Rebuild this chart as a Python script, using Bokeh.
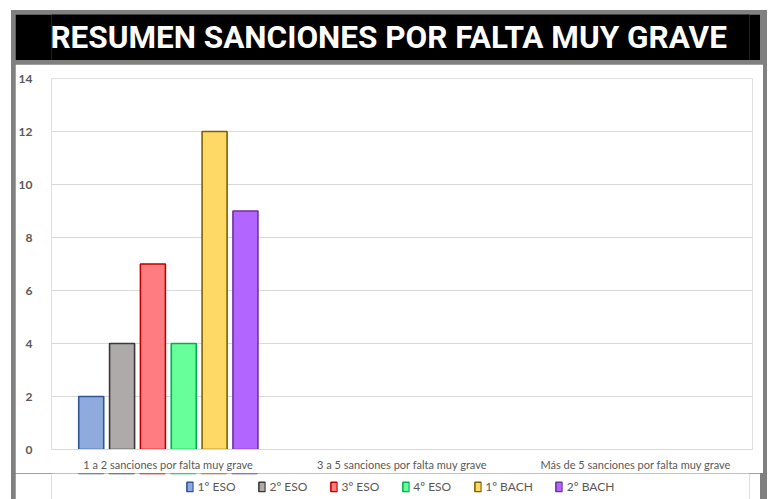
from bokeh.plotting import figure
from bokeh.layouts import column
from bokeh.models import ColumnDataSource, FactorRange, Label, Legend, LegendItem, FixedTicker
from bokeh.transform import dodge
from bokeh.embed import file_html
from bokeh.resources import INLINE

title_text = "RESUMEN SANCIONES POR FALTA MUY GRAVE"
categories = ["1 a 2 sanciones por falta muy grave",
              "3 a 5 sanciones por falta muy grave",
              "Más de 5 sanciones por falta muy grave"]
series = ["1º ESO", "2º ESO", "3º ESO", "4º ESO", "1º BACH", "2º BACH"]
eso1 = [2, 0, 0]
eso2 = [4, 0, 0]
eso3 = [7, 0, 0]
eso4 = [4, 0, 0]
bach1 = [12, 0, 0]
bach2 = [9, 0, 0]
y_ticks = [0, 2, 4, 6, 8, 10, 12, 14]

values = [eso1, eso2, eso3, eso4, bach1, bach2]
fills = ["#8FAADC", "#AEAAAA", "#FF7C80", "#66FF99", "#FFD966", "#B266FF"]
lines = ["#2F5597", "#3B3838", "#C00000", "#00B050", "#7F6000", "#7030A0"]

# title band
tf = figure(width=745, height=46, x_range=(0, 1), y_range=(0, 1),
            output_backend="svg", toolbar_location=None, min_border=0,
            background_fill_color="black", border_fill_color="black",
            outline_line_color=None, margin=(4, 4, 0, 4))
tf.axis.visible = False
tf.grid.visible = False
tf.add_layout(Label(x=0.483, y=0.5, text=title_text, text_align="center",
                    text_baseline="middle", text_color="white",
                    text_font="Roboto", text_font_style="bold",
                    text_font_size="31.5px"))

p = figure(x_range=FactorRange(*categories), y_range=(0, 14),
           frame_width=701, frame_height=371, output_backend="svg",
           toolbar_location=None,
           min_border_left=33, min_border_right=11, min_border_top=14,
           min_border_bottom=24, outline_line_color=None,
           background_fill_color="white", border_fill_color="white",
           margin=(4, 4, 0, 4))
p.x_range.range_padding = 0

# legend strip below the chart (same sources, bars fall outside its view)
lf = figure(width=745, height=26, x_range=FactorRange(*categories),
            y_range=(-2, -1),
            output_backend="svg", toolbar_location=None, min_border=0,
            background_fill_color="white", border_fill_color="white",
            outline_line_color=None, margin=(0, 4, 0, 4))
lf.axis.visible = False
lf.grid.visible = False

slot = 0.132
bw = 0.107
items = []
for i, (name, vals) in enumerate(zip(series, values)):
    cats = [c for c, v in zip(categories, vals) if v > 0]
    vs = [v for v in vals if v > 0]
    src = ColumnDataSource(dict(cat=cats, val=vs))
    p.vbar(x=dodge("cat", (i - 2.5) * slot, range=p.x_range), top="val",
           width=bw, source=src, fill_color=fills[i], line_color=lines[i],
           line_width=1.6)
    r = lf.vbar(x=dodge("cat", (i - 2.5) * slot, range=lf.x_range), top="val",
                width=bw, source=src, fill_color=fills[i], line_color=lines[i],
                line_width=1.6)
    items.append(LegendItem(label=name, renderers=[r]))

p.xgrid.grid_line_color = None
p.ygrid.grid_line_color = "#d9d9d9"
p.yaxis.ticker = FixedTicker(ticks=y_ticks)
p.yaxis.axis_line_color = None
p.yaxis.major_tick_line_color = None
p.yaxis.minor_tick_line_color = None
p.yaxis.major_label_standoff = 13
p.yaxis.major_label_text_font = "Lato"
p.yaxis.major_label_text_font_style = "bold"
p.yaxis.major_label_text_font_size = "12px"
p.yaxis.major_label_text_color = "#595959"

p.xaxis.axis_line_color = "#d9d9d9"
p.xaxis.major_tick_line_color = None
p.xaxis.minor_tick_line_color = None
p.xaxis.major_tick_in = 0
p.xaxis.major_tick_out = 0
p.xaxis.major_label_standoff = 8
p.xaxis.major_label_text_font = "Lato"
p.xaxis.major_label_text_font_size = "11px"
p.xaxis.major_label_text_color = "#595959"

legend = Legend(items=items, orientation="horizontal", location="center",
                glyph_width=8, glyph_height=12, label_height=12,
                label_standoff=4, spacing=22,
                padding=2, margin=0, border_line_color=None,
                background_fill_alpha=0, label_text_font="Lato",
                label_text_font_size="12px", label_text_color="#595959")
lf.add_layout(legend, "center")

layout = column(tf, p, lf, spacing=0, margin=(10, 0, 0, 11),
                styles={"background-color": "#808080"})

open("out.html", "w").write(file_html(layout, INLINE))
